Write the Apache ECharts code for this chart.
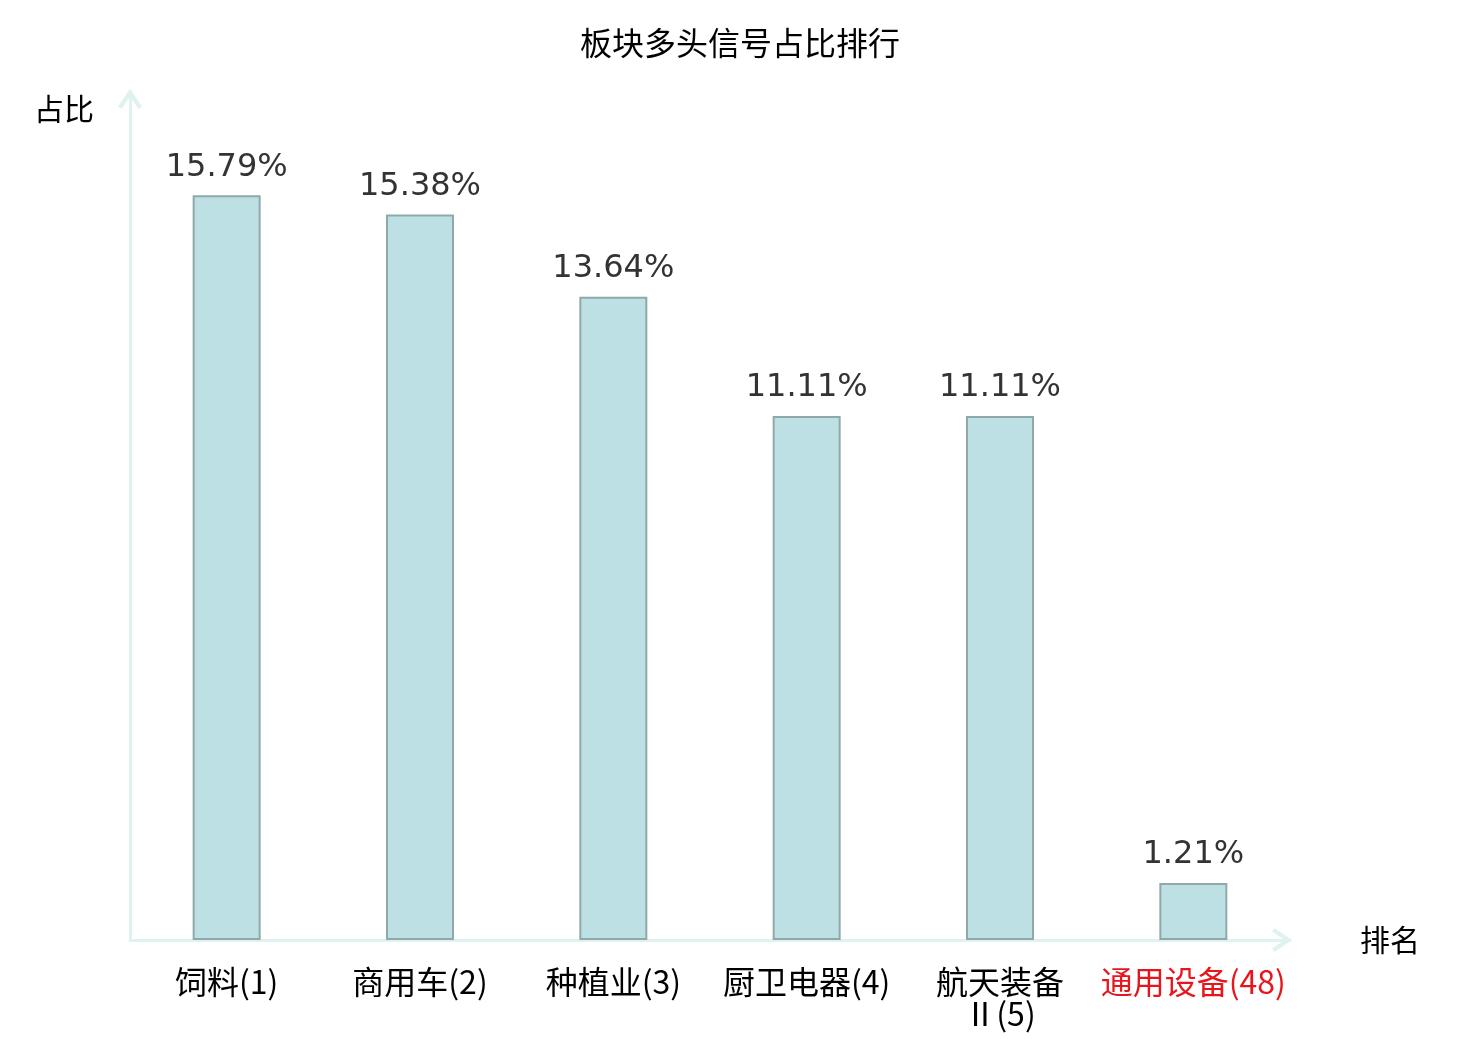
<!DOCTYPE html>
<html>
<head>
<meta charset="utf-8">
<script src="https://cdn.jsdelivr.net/npm/echarts@6/dist/echarts.min.js"></script>
<style>
  html, body { margin: 0; padding: 0; background: #fff; }
  #chart { width: 1480px; height: 1040px; }
</style>
</head>
<body>
<div id="chart"></div>
<script>
// sectors, their rank and share of long signals (%)
const categories = ['饲料', '商用车', '种植业', '厨卫电器', '航天装备\nⅡ', '通用设备'];
const ranks = [1, 2, 3, 4, 5, 48];
const shares = [15.79, 15.38, 13.64, 11.11, 11.11, 1.21];
const highlightIndex = 5;

const cjkFont = '"Noto Sans CJK SC", sans-serif';
const axisColor = '#dff2ef';
// open chevron arrow head, tip pointing up
const chevron = 'path://M0,17.5 L12,0 L24,17.5 L20.5,20 L12,7.5 L3.5,20 Z';

const chart = echarts.init(document.getElementById('chart'));

chart.setOption({
  animation: false,
  title: {
    text: '板块多头信号占比排行',
    left: 'center',
    top: 22,
    textStyle: { fontSize: 32, fontWeight: 'normal', color: '#000', fontFamily: cjkFont }
  },
  grid: { left: 130, right: 190, top: 91, bottom: 100 },
  xAxis: {
    type: 'category',
    data: categories.map((c, i) => c + '(' + ranks[i] + ')'),
    name: '排名',
    nameLocation: 'end',
    nameGap: 70,
    nameTextStyle: { fontSize: 30, color: '#000', fontFamily: cjkFont },
    axisLine: { lineStyle: { color: axisColor, width: 3 }, symbol: ['none', chevron], symbolSize: [24, 20], symbolOffset: [0, -8] },
    axisTick: { show: false },
    axisLabel: {
      interval: 0,
      margin: 26,
      fontSize: 32,
      lineHeight: 32,
      color: (v, i) => (i === highlightIndex ? '#e8151b' : '#000'),
      fontFamily: cjkFont
    }
  },
  yAxis: {
    type: 'value',
    min: 0,
    max: 18,
    name: '占比',
    nameLocation: 'end',
    nameGap: 0,
    nameTextStyle: { fontSize: 30, color: '#000', align: 'right', padding: [0, 36, -33, 0], fontFamily: cjkFont },
    axisLine: { show: true, lineStyle: { color: axisColor, width: 3 }, symbol: ['none', chevron], symbolSize: [24, 20], symbolOffset: [0, -8] },
    axisTick: { show: false },
    axisLabel: { show: false },
    splitLine: { show: false }
  },
  series: [{
    type: 'bar',
    data: shares,
    barWidth: 68,
    itemStyle: { color: '#bce0e3', borderColor: '#8fa9a9', borderWidth: 2 },
    label: {
      show: true,
      position: 'top',
      distance: 12,
      fontSize: 32,
      color: '#333',
      fontFamily: 'DejaVu Sans',
      formatter: p => p.value.toFixed(2) + '%'
    }
  }]
});
</script>
</body>
</html>
